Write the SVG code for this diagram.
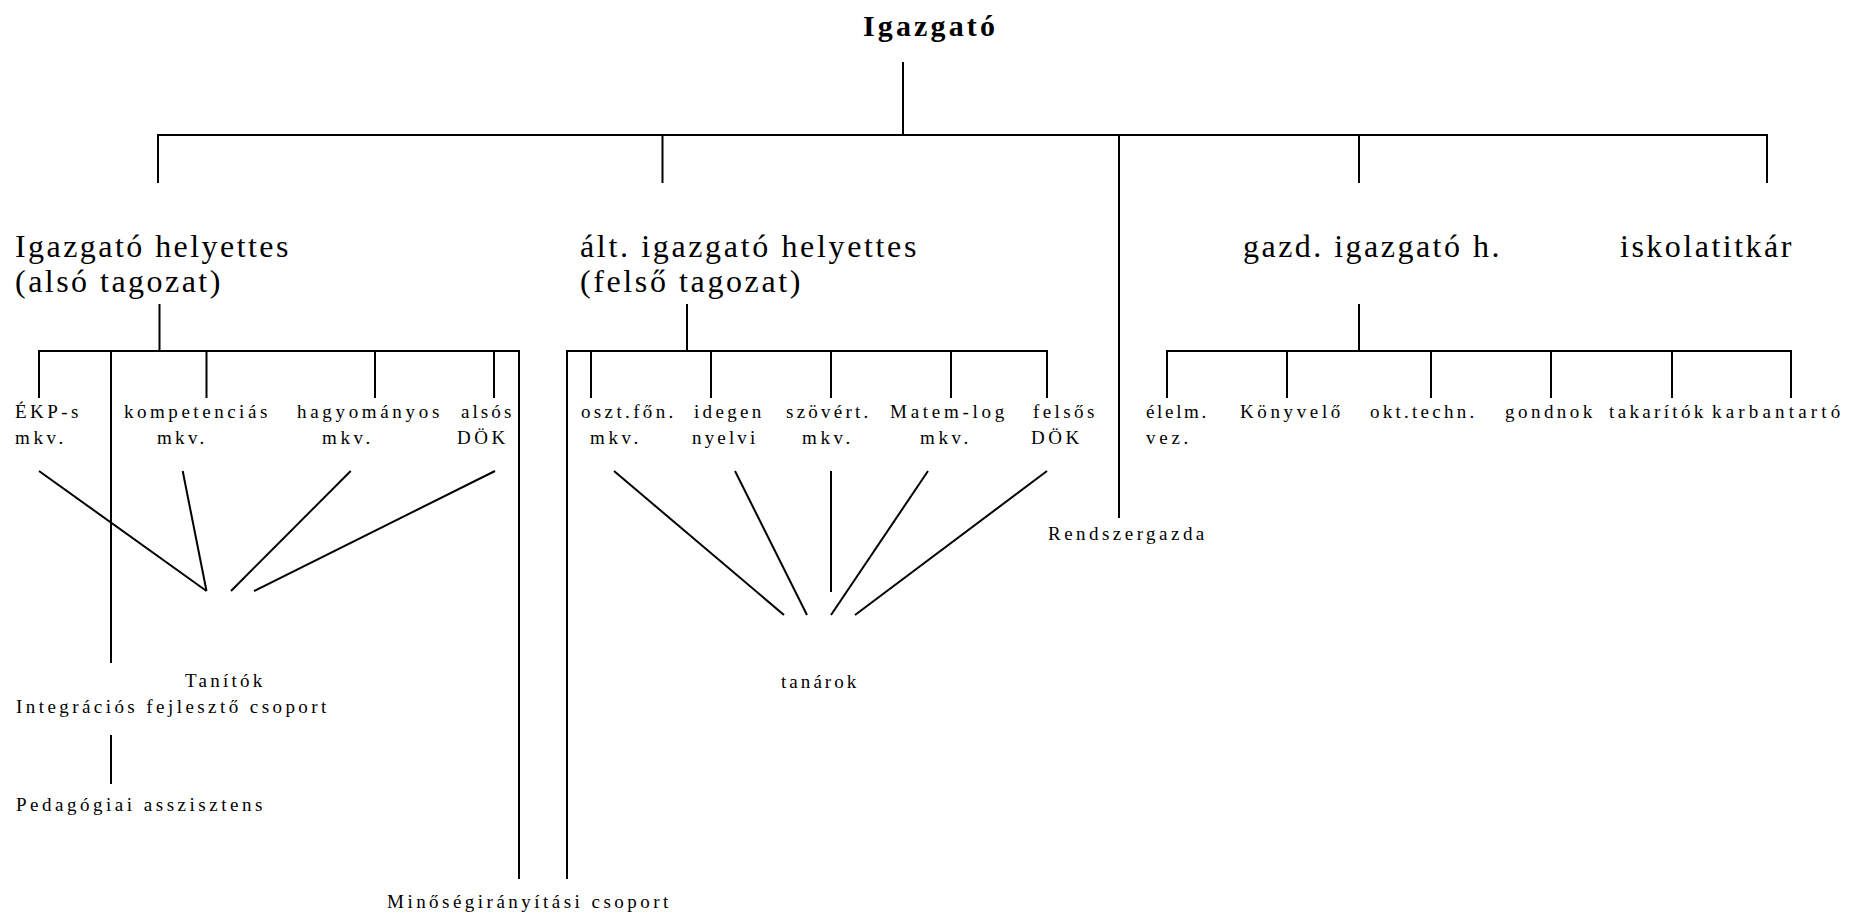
<svg xmlns="http://www.w3.org/2000/svg" width="1850" height="914" viewBox="0 0 1850 914">
<style>
text{font-family:"Liberation Serif","Times New Roman",serif;fill:#000}
.s{font-size:19px;letter-spacing:3.7px}
.l{font-size:32px;letter-spacing:2.6px}
.h{font-size:30px;font-weight:bold;letter-spacing:3px}
.c line{stroke:#000;stroke-width:2;fill:none}
</style>
<rect width="1850" height="914" fill="#fff"/>
<g class="c" id="connectors">
<line x1="903" y1="62" x2="903" y2="135"/>
<line x1="157" y1="135" x2="1768" y2="135"/>
<line x1="158" y1="135" x2="158" y2="183"/>
<line x1="662.5" y1="135" x2="662.5" y2="183"/>
<line x1="1119" y1="135" x2="1119" y2="518"/>
<line x1="1359" y1="135" x2="1359" y2="183"/>
<line x1="1767" y1="135" x2="1767" y2="183"/>
<line x1="159.5" y1="304" x2="159.5" y2="351"/>
<line x1="38" y1="351" x2="520" y2="351"/>
<line x1="39" y1="351" x2="39" y2="398"/>
<line x1="111" y1="351" x2="111" y2="663"/>
<line x1="206.5" y1="351" x2="206.5" y2="398"/>
<line x1="375" y1="351" x2="375" y2="398"/>
<line x1="494" y1="351" x2="494" y2="398"/>
<line x1="519" y1="351" x2="519" y2="879"/>
<line x1="39" y1="471" x2="206.5" y2="591"/>
<line x1="182.7" y1="471" x2="206.5" y2="591"/>
<line x1="350.7" y1="471" x2="231" y2="591"/>
<line x1="495" y1="471" x2="254" y2="591"/>
<line x1="111" y1="735" x2="111" y2="784"/>
<line x1="687" y1="304" x2="687" y2="351"/>
<line x1="566" y1="351" x2="1048" y2="351"/>
<line x1="567" y1="351" x2="567" y2="879"/>
<line x1="591" y1="351" x2="591" y2="398"/>
<line x1="711" y1="351" x2="711" y2="398"/>
<line x1="831" y1="351" x2="831" y2="398"/>
<line x1="951" y1="351" x2="951" y2="398"/>
<line x1="1047" y1="351" x2="1047" y2="398"/>
<line x1="614" y1="471" x2="784" y2="615"/>
<line x1="735" y1="471" x2="807" y2="615"/>
<line x1="831" y1="471" x2="831" y2="592"/>
<line x1="928" y1="471" x2="831" y2="615"/>
<line x1="1047" y1="471" x2="855" y2="615"/>
<line x1="1359" y1="304" x2="1359" y2="351"/>
<line x1="1166" y1="351" x2="1792" y2="351"/>
<line x1="1167" y1="351" x2="1167" y2="398"/>
<line x1="1287" y1="351" x2="1287" y2="398"/>
<line x1="1431" y1="351" x2="1431" y2="398"/>
<line x1="1551" y1="351" x2="1551" y2="398"/>
<line x1="1672" y1="351" x2="1672" y2="398"/>
<line x1="1791" y1="351" x2="1791" y2="398"/>
</g>
<g id="igazgato"><text class="h" x="863" y="36" textLength="135" lengthAdjust="spacing">Igazgató</text></g>
<g id="ig-h-also"><text class="l" x="15" y="257" textLength="276" lengthAdjust="spacing">Igazgató helyettes</text><text class="l" x="15" y="292" textLength="208" lengthAdjust="spacing">(alsó tagozat)</text></g>
<g id="alt-ig-h"><text class="l" x="580" y="257" textLength="339" lengthAdjust="spacing">ált. igazgató helyettes</text><text class="l" x="580" y="292" textLength="223" lengthAdjust="spacing">(felső tagozat)</text></g>
<g id="gazd"><text class="l" x="1243" y="257" textLength="259" lengthAdjust="spacing">gazd. igazgató h.</text></g>
<g id="iskolatitkar"><text class="l" x="1620" y="257" textLength="174" lengthAdjust="spacing">iskolatitkár</text></g>
<g id="ekp"><text class="s" x="15" y="418" textLength="67" lengthAdjust="spacing">ÉKP-s</text><text class="s" x="15" y="444" textLength="52" lengthAdjust="spacing">mkv.</text></g>
<g id="kompetencias"><text class="s" x="124" y="418" textLength="147" lengthAdjust="spacing">kompetenciás</text><text class="s" x="157" y="444" textLength="51" lengthAdjust="spacing">mkv.</text></g>
<g id="hagyomanyos"><text class="s" x="297" y="418" textLength="146" lengthAdjust="spacing">hagyományos</text><text class="s" x="322" y="444" textLength="52" lengthAdjust="spacing">mkv.</text></g>
<g id="also-dok"><text class="s" x="461" y="418" textLength="54" lengthAdjust="spacing">alsós</text><text class="s" x="457" y="444" textLength="52" lengthAdjust="spacing">DÖK</text></g>
<g id="tanitok"><text class="s" x="185" y="687" textLength="81" lengthAdjust="spacing">Tanítók</text></g>
<g id="integracios"><text class="s" x="16" y="713" textLength="314" lengthAdjust="spacing">Integrációs fejlesztő csoport</text></g>
<g id="pedagogiai"><text class="s" x="16" y="811" textLength="250" lengthAdjust="spacing">Pedagógiai asszisztens</text></g>
<g id="minoseg"><text class="s" x="387" y="908" textLength="285" lengthAdjust="spacing">Minőségirányítási csoport</text></g>
<g id="osztfon"><text class="s" x="581" y="418" textLength="96" lengthAdjust="spacing">oszt.főn.</text><text class="s" x="590" y="444" textLength="52" lengthAdjust="spacing">mkv.</text></g>
<g id="idegen"><text class="s" x="694" y="418" textLength="71" lengthAdjust="spacing">idegen</text><text class="s" x="692" y="444" textLength="67" lengthAdjust="spacing">nyelvi</text></g>
<g id="szovert"><text class="s" x="786" y="418" textLength="86" lengthAdjust="spacing">szövért.</text><text class="s" x="802" y="444" textLength="52" lengthAdjust="spacing">mkv.</text></g>
<g id="matem"><text class="s" x="890" y="418" textLength="118" lengthAdjust="spacing">Matem-log</text><text class="s" x="920" y="444" textLength="52" lengthAdjust="spacing">mkv.</text></g>
<g id="felsos-dok"><text class="s" x="1033" y="418" textLength="65" lengthAdjust="spacing">felsős</text><text class="s" x="1031" y="444" textLength="52" lengthAdjust="spacing">DÖK</text></g>
<g id="tanarok"><text class="s" x="781" y="688" textLength="79" lengthAdjust="spacing">tanárok</text></g>
<g id="rendszergazda"><text class="s" x="1048" y="540" textLength="160" lengthAdjust="spacing">Rendszergazda</text></g>
<g id="elelm"><text class="s" x="1146" y="418" textLength="64" lengthAdjust="spacing">élelm.</text><text class="s" x="1146" y="444" textLength="46" lengthAdjust="spacing">vez.</text></g>
<g id="konyvelo"><text class="s" x="1240" y="418" textLength="104" lengthAdjust="spacing">Könyvelő</text></g>
<g id="okt"><text class="s" x="1370" y="418" textLength="108" lengthAdjust="spacing">okt.techn.</text></g>
<g id="gondnok"><text class="s" x="1505" y="418" textLength="91" lengthAdjust="spacing">gondnok</text></g>
<g id="takaritok"><text class="s" x="1609" y="418" textLength="98" lengthAdjust="spacing">takarítók</text></g>
<g id="karbantarto"><text class="s" x="1712" y="418" textLength="132" lengthAdjust="spacing">karbantartó</text></g>
</svg>
